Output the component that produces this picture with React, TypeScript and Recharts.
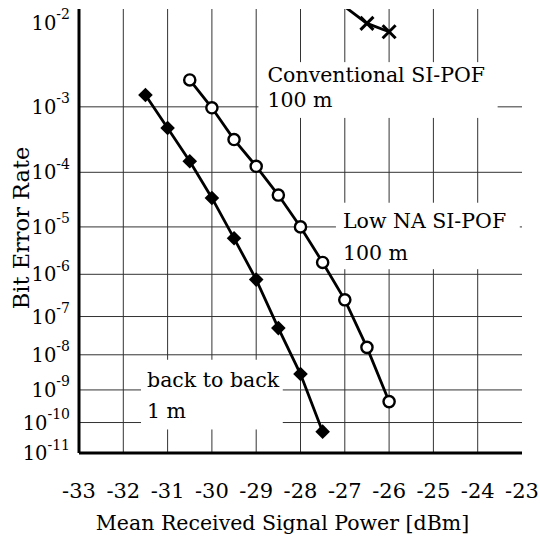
import React from 'react';
import { ComposedChart, Line, XAxis, YAxis, CartesianGrid, ReferenceArea, Label } from 'recharts';

// ---- data (BER vs mean received power, dBm) ----
const backX = [-31.5, -31, -30.5, -30, -29.5, -29, -28.5, -28, -27.5];
const backBER = [1.44e-3, 5.0e-4, 1.53e-4, 3.55e-5, 5.9e-6, 7.6e-7, 5.1e-8, 2.9e-9, 5.1e-11];

const lowNaX = [-30.5, -30, -29.5, -29, -28.5, -28, -27.5, -27, -26.5, -26];
const lowNaBER = [2.25e-3, 9.7e-4, 3.36e-4, 1.26e-4, 4.0e-5, 1.0e-5, 1.83e-6, 2.56e-7, 1.59e-8, 4.47e-10];

const convX = [-27, -26.5, -26];
const convBER = [1.43e-2, 9.8e-3, 8.05e-3];

const xTicks = [-33, -32, -31, -30, -29, -28, -27, -26, -25, -24, -23];
const xGrid = [-32, -31, -30, -29, -28, -27, -26, -25, -24];
const yTickExponents = [2, 3, 4, 5, 6, 7, 8, 9, 10, 11];
const yGridExponents = [3, 4, 5, 6, 7, 8, 9, 10];
const berTop = 1.36e-2;
const berBottom = 1e-11;

// ---- BER axis transform (Q-type probability scale) ----
function normInv(p: number): number {
  const a = [-3.969683028665376e1, 2.209460984245205e2, -2.759285104469687e2, 1.38357751867269e2, -3.066479806614716e1, 2.506628277459239];
  const b = [-5.447609879822406e1, 1.615858368580409e2, -1.556989798598866e2, 6.680131188771972e1, -1.328068155288572e1];
  const c = [-7.784894002430293e-3, -3.223964580411365e-1, -2.400758277161838, -2.549732539343734, 4.374664141464968, 2.938163982698783];
  const d = [7.784695709041462e-3, 3.224671290700398e-1, 2.445134137142996, 3.754408661907416];
  const plow = 0.02425;
  if (p < plow) {
    const q = Math.sqrt(-2 * Math.log(p));
    return (((((c[0] * q + c[1]) * q + c[2]) * q + c[3]) * q + c[4]) * q + c[5]) /
      ((((d[0] * q + d[1]) * q + d[2]) * q + d[3]) * q + 1);
  }
  if (p <= 1 - plow) {
    const q = p - 0.5;
    const r = q * q;
    return (((((a[0] * r + a[1]) * r + a[2]) * r + a[3]) * r + a[4]) * r + a[5]) * q /
      (((((b[0] * r + b[1]) * r + b[2]) * r + b[3]) * r + b[4]) * r + 1);
  }
  const q = Math.sqrt(-2 * Math.log(1 - p));
  return -(((((c[0] * q + c[1]) * q + c[2]) * q + c[3]) * q + c[4]) * q + c[5]) /
    ((((d[0] * q + d[1]) * q + d[2]) * q + d[3]) * q + 1);
}
const berToAxis = (p: number) => -Math.pow(-normInv(p), 0.75);

const toSeries = (xs: number[], bers: number[]) => xs.map((x, i) => ({ x, y: berToAxis(bers[i]), ber: bers[i] }));
const backData = toSeries(backX, backBER);
const lowNaData = toSeries(lowNaX, lowNaBER);
const convData = toSeries(convX, convBER);

const yTicks = yTickExponents.map((k) => berToAxis(Math.pow(10, -k)));
const yGrid = yGridExponents.map((k) => berToAxis(Math.pow(10, -k)));
const yDomain = [berToAxis(berBottom), berToAxis(berTop)];

const FONT = "'DejaVu Serif', serif";

// ---- annotations ----
const annotations = [
  { lines: ['Conventional SI-POF', '100 m'], x1: -28.95, x2: -23.55, ber1: 3.7e-3, ber2: 7.0e-4, dx: 9, base: [20, 45] },
  { lines: ['Low NA SI-POF', '100 m'], x1: -27.2, x2: -23.05, ber1: 2.9e-5, ber2: 1.3e-6, dx: 7, base: [25, 57] },
  { lines: ['back to back', '1 m'], x1: -31.6, x2: -28.4, ber1: 7.3e-9, ber2: 6.0e-11, dx: 6, base: [27, 58] },
];

const Diamond = (props: any) => {
  const { cx, cy } = props;
  if (cx == null || cy == null) return null;
  const s = 7.3;
  return <path d={`M${cx},${cy - s}L${cx + s},${cy}L${cx},${cy + s}L${cx - s},${cy}Z`} fill="#000" />;
};
const OpenCircle = (props: any) => {
  const { cx, cy } = props;
  if (cx == null || cy == null) return null;
  return <circle cx={cx} cy={cy} r={5.6} fill="#fff" stroke="#000" strokeWidth={2.4} />;
};
const Cross = (props: any) => {
  const { cx, cy, payload } = props;
  if (cx == null || cy == null || (payload && payload.ber > berTop)) return null;
  const s = 6.5;
  return (
    <g stroke="#000" strokeWidth={3}>
      <line x1={cx - s} y1={cy - s} x2={cx + s} y2={cy + s} />
      <line x1={cx - s} y1={cy + s} x2={cx + s} y2={cy - s} />
    </g>
  );
};

const XTick = (props: any) => {
  const { x, y, payload } = props;
  return (
    <text x={x} y={y} dy="0.71em" textAnchor="middle" fontFamily={FONT} fontSize={21} fill="#000">
      {payload.value}
    </text>
  );
};

const YTick = (props: any) => {
  const { x, y, payload } = props;
  let k = yTickExponents[0];
  let best = Infinity;
  yTickExponents.forEach((e) => {
    const dd = Math.abs(berToAxis(Math.pow(10, -e)) - payload.value);
    if (dd < best) { best = dd; k = e; }
  });
  return (
    <text x={x} y={y} textAnchor="end" fontFamily={FONT} fill="#000">
      <tspan fontSize={19.5} dy="0.36em">10</tspan>
      <tspan fontSize={14} dy="-0.75em">{`-${k}`}</tspan>
    </text>
  );
};

const annotationShape = (a: any) => (props: any) => {
  const { x, y, width, height } = props;
  return (
    <g>
      <rect x={x} y={y} width={width} height={height} fill="#fff" />
      {a.lines.map((t: string, i: number) => (
        <text key={i} x={x + a.dx} y={y + a.base[i]} fontFamily={FONT} fontSize={20.5} fill="#000">
          {t}
        </text>
      ))}
    </g>
  );
};

export default function App() {
  return (
    <div style={{ position: 'absolute', left: 0, top: 0, width: 540, height: 541, background: '#fff' }}>
      <ComposedChart width={540} height={541} margin={{ top: 9, right: 18, left: 0, bottom: 0 }}>
        <CartesianGrid horizontalValues={yGrid} verticalValues={xGrid} stroke="#333" strokeWidth={1} />
        <XAxis
          dataKey="x"
          type="number"
          domain={[-33, -23]}
          ticks={xTicks}
          allowDataOverflow
          height={88}
          tickSize={0}
          tickMargin={30}
          tick={<XTick />}
          axisLine={{ stroke: '#000', strokeWidth: 3 }}
          tickLine={false}
          interval={0}
        >
          <Label
            content={(p: any) => {
              const vb = p.viewBox || {};
              return (
                <text x={vb.x + vb.width / 2 - 18} y={vb.y + 77} textAnchor="middle" fontFamily={FONT} fontSize={20.5} fill="#000">
                  Mean Received Signal Power [dBm]
                </text>
              );
            }}
          />
        </XAxis>
        <XAxis xAxisId="top" orientation="top" type="number" domain={[-33, -23]} height={0} tick={false} tickLine={false} axisLine={{ stroke: '#000', strokeWidth: 3 }} />
        <YAxis
          type="number"
          domain={yDomain}
          ticks={yTicks}
          allowDataOverflow
          width={79}
          tickSize={0}
          tickMargin={9}
          tick={<YTick />}
          tickLine={false}
          axisLine={{ stroke: '#000', strokeWidth: 3 }}
          interval={0}
        >
          <Label
            content={(p: any) => {
              const vb = p.viewBox || {};
              const cy = vb.y + vb.height / 2 - 3;
              return (
                <text transform={`translate(21, ${cy}) rotate(-90)`} textAnchor="middle" dominantBaseline="central" fontFamily={FONT} fontSize={22.5} fill="#000">
                  Bit Error Rate
                </text>
              );
            }}
          />
        </YAxis>
        <YAxis yAxisId="right" orientation="right" type="number" domain={yDomain} width={0} tick={false} tickLine={false} axisLine={{ stroke: '#000', strokeWidth: 3 }} />

        {annotations.map((a, i) => (
          <ReferenceArea
            key={i}
            x1={a.x1}
            x2={a.x2}
            y1={berToAxis(a.ber1)}
            y2={berToAxis(a.ber2)}
            shape={annotationShape(a)}
          />
        ))}

        <Line data={backData} dataKey="y" type="linear" stroke="#000" strokeWidth={2.8} dot={<Diamond />} activeDot={false} isAnimationActive={false} />
        <Line data={lowNaData} dataKey="y" type="linear" stroke="#000" strokeWidth={2.8} dot={<OpenCircle />} activeDot={false} isAnimationActive={false} />
        <Line data={convData} dataKey="y" type="linear" stroke="#000" strokeWidth={2.8} dot={<Cross />} activeDot={false} isAnimationActive={false} />
      </ComposedChart>
    </div>
  );
}
